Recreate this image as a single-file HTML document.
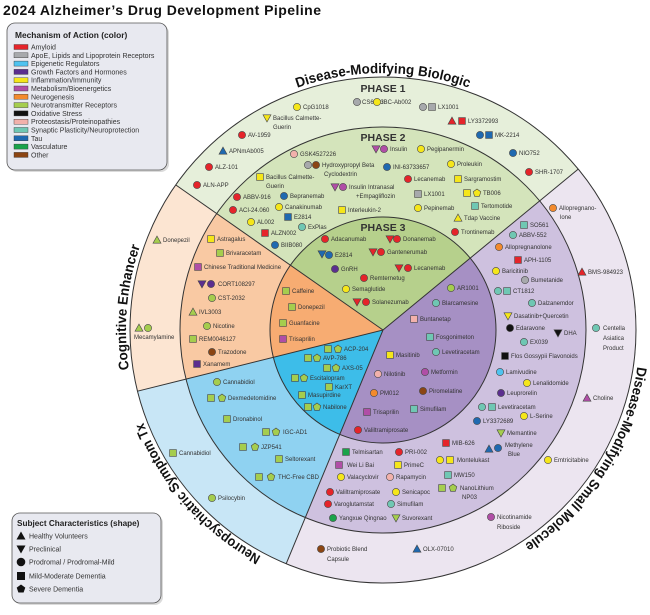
<!DOCTYPE html>
<html><head><meta charset="utf-8"><style>
body{margin:0;background:#fff;}
svg{display:block;font-family:"Liberation Sans",sans-serif;}
.t{font-size:6px;fill:#333;}
.ph{font-size:10.5px;font-weight:bold;fill:#333;text-anchor:middle;}
.big{font-size:14px;font-weight:bold;fill:#111;}
use{stroke:#444;stroke-width:.6;}
.lg{font-size:7px;fill:#333;}
</style></head><body>
<svg width="650" height="615" viewBox="0 0 650 615" xmlns="http://www.w3.org/2000/svg">
<defs>
<circle id="c" r="3.6"/>
<rect id="s" x="-3.4" y="-3.4" width="6.8" height="6.8"/>
<path id="u" d="M0,-4L4,3.2L-4,3.2Z"/>
<path id="d" d="M0,4L4,-3.2L-4,-3.2Z"/>
<path id="p" d="M0,-4L3.8,-1.2L2.4,3.3L-2.4,3.3L-3.8,-1.2Z"/>
<path id="topArc" d="M126,330 A257,257 0 0 1 640,330"/>
<path id="rightArc" d="M383,73 A257,257 0 0 1 383,587"/>
<path id="leftArc" d="M383,587 A257,257 0 0 1 383,73"/>
<path id="cogArc" d="M160.4,458.5 A257,257 0 0 1 172.5,182.6"/>
</defs>

<text x="3" y="15" class="big" textLength="318">2024 Alzheimer’s Drug Development Pipeline</text>

<path d="M383,330 L175.7,184.9 A253,253 0 0 1 578.2,169.1Z" fill="#e6efda"/>
<path d="M383,330 L578.2,169.1 A253,253 0 0 1 286.2,563.7Z" fill="#ece5f0"/>
<path d="M383,330 L286.2,563.7 A253,253 0 0 1 137.5,391.2Z" fill="#c8e6f6"/>
<path d="M383,330 L137.5,391.2 A253,253 0 0 1 175.7,184.9Z" fill="#fce5d2"/>
<path d="M383,330 L216.7,213.6 A203,203 0 0 1 539.6,200.9Z" fill="#d4e4bb"/>
<path d="M383,330 L539.6,200.9 A203,203 0 0 1 305.3,517.6Z" fill="#cec1df"/>
<path d="M383,330 L305.3,517.6 A203,203 0 0 1 186,379.1Z" fill="#8fd2f1"/>
<path d="M383,330 L186,379.1 A203,203 0 0 1 216.7,213.6Z" fill="#f9c9a3"/>
<path d="M383,330 L290.4,265.2 A113,113 0 0 1 470.2,258.1Z" fill="#b6d08c"/>
<path d="M383,330 L470.2,258.1 A113,113 0 0 1 339.8,434.4Z" fill="#a690c4"/>
<path d="M383,330 L339.8,434.4 A113,113 0 0 1 273.4,357.3Z" fill="#3dbde9"/>
<path d="M383,330 L273.4,357.3 A113,113 0 0 1 290.4,265.2Z" fill="#f7ac72"/>
<g fill="none" stroke="#333" stroke-width="1">
<circle cx="383" cy="330" r="253"/>
<circle cx="383" cy="330" r="203"/>
<circle cx="383" cy="330" r="113"/>
<line x1="383" y1="330" x2="175.7" y2="184.9"/>
<line x1="383" y1="330" x2="578.2" y2="169.1"/>
<line x1="383" y1="330" x2="286.2" y2="563.7"/>
<line x1="383" y1="330" x2="137.5" y2="391.2"/>
</g>

<text class="big"><textPath href="#topArc" startOffset="50%" text-anchor="middle" textLength="175" lengthAdjust="spacingAndGlyphs">Disease-Modifying Biologic</textPath></text>
<text class="big"><textPath href="#rightArc" startOffset="68%" text-anchor="middle" textLength="217" lengthAdjust="spacingAndGlyphs">Disease-Modifying Small Molecule</textPath></text>
<text class="big"><textPath href="#leftArc" startOffset="27%" text-anchor="middle" textLength="182" lengthAdjust="spacingAndGlyphs">Neuropsychiatric Symptom Tx</textPath></text>
<text class="big"><textPath href="#cogArc" startOffset="54%" text-anchor="middle" textLength="125" lengthAdjust="spacingAndGlyphs">Cognitive Enhancer</textPath></text>

<text x="383" y="92" class="ph">PHASE 1</text>
<text x="383" y="141" class="ph">PHASE 2</text>
<text x="383" y="231" class="ph">PHASE 3</text>

<use href="#c" x="297" y="107" fill="#f5e61a"/><text class="t" x="303" y="109.2">CpG1018</text>
<use href="#d" x="267" y="118" fill="#f5e61a"/><text class="t" x="273" y="120.2">Bacillus Calmette-</text><text class="t" x="273" y="129">Guerin</text>
<use href="#c" x="242" y="135" fill="#e5242a"/><text class="t" x="248" y="137.2">AV-1959</text>
<use href="#u" x="223" y="151" fill="#1f69b0"/><text class="t" x="229" y="153.2">APNmAb005</text>
<use href="#c" x="209" y="167" fill="#e5242a"/><text class="t" x="215" y="169.2">ALZ-101</text>
<use href="#c" x="197" y="185" fill="#e5242a"/><text class="t" x="203" y="187.2">ALN-APP</text>
<use href="#c" x="357" y="102" fill="#a7a9ac"/><text class="t" x="362" y="104.2">CS6253</text>
<use href="#c" x="377" y="102" fill="#f5e61a"/><text class="t" x="382" y="104.2">IBC-Ab002</text>
<use href="#c" x="423" y="107" fill="#a7a9ac"/><use href="#s" x="432" y="107" fill="#a7a9ac"/><text class="t" x="438" y="109.2">LX1001</text>
<use href="#u" x="452" y="121" fill="#e5242a"/><use href="#s" x="462" y="121" fill="#e5242a"/><text class="t" x="468" y="123.2">LY3372993</text>
<use href="#c" x="480" y="135" fill="#1f69b0"/><use href="#s" x="489" y="135" fill="#1f69b0"/><text class="t" x="495" y="137.2">MK-2214</text>
<use href="#c" x="513" y="153" fill="#1f69b0"/><text class="t" x="519" y="155.2">NIO752</text>
<use href="#c" x="529" y="172" fill="#e5242a"/><text class="t" x="535" y="174.2">SHR-1707</text>

<use href="#d" x="376" y="149" fill="#b04ea6"/><use href="#c" x="384" y="149" fill="#b04ea6"/><text class="t" x="390" y="151.2">Insulin</text>
<use href="#c" x="421" y="149" fill="#f5e61a"/><text class="t" x="427" y="151.2">Pegipanermin</text>
<use href="#c" x="387" y="167" fill="#1f69b0"/><text class="t" x="393" y="169.2">INI-63733657</text>
<use href="#c" x="451" y="164" fill="#f5e61a"/><text class="t" x="457" y="166.2">Proleukin</text>
<use href="#c" x="408" y="179" fill="#e5242a"/><text class="t" x="414" y="181.2">Lecanemab</text>
<use href="#s" x="458" y="179" fill="#f5e61a"/><text class="t" x="464" y="181.2">Sargramostim</text>
<use href="#d" x="335" y="187" fill="#b04ea6"/><use href="#c" x="343" y="187" fill="#b04ea6"/><text class="t" x="349" y="189.2">Insulin Intranasal</text><text class="t" x="356" y="198">+Empagliflozin</text>
<use href="#s" x="418" y="194" fill="#a7a9ac"/><text class="t" x="424" y="196.2">LX1001</text>
<use href="#s" x="467" y="193" fill="#f5e61a"/><use href="#p" x="477" y="193" fill="#f5e61a"/><text class="t" x="483" y="195.2">TB006</text>
<use href="#s" x="342" y="210" fill="#f5e61a"/><text class="t" x="348" y="212.2">Interleukin-2</text>
<use href="#c" x="418" y="208" fill="#f5e61a"/><text class="t" x="424" y="210.2">Pepinemab</text>
<use href="#s" x="475" y="206" fill="#6fc7b3"/><text class="t" x="481" y="208.2">Tertomotide</text>
<use href="#u" x="458" y="218" fill="#f5e61a"/><text class="t" x="464" y="220.2">Tdap Vaccine</text>
<use href="#c" x="455" y="232" fill="#e5242a"/><text class="t" x="461" y="234.2">Trontinemab</text>
<use href="#c" x="294" y="154" fill="#f2b1ab"/><text class="t" x="300" y="156.2">GSK4527226</text>
<use href="#c" x="308" y="165" fill="#a7a9ac"/><use href="#c" x="316" y="165" fill="#8b4513"/><text class="t" x="322" y="167.2">Hydroxypropyl Beta</text><text class="t" x="324" y="176">Cyclodextrin</text>
<use href="#s" x="260" y="177" fill="#f5e61a"/><text class="t" x="266" y="179.2">Bacillus Calmette-</text><text class="t" x="266" y="188">Guerin</text>
<use href="#c" x="237" y="197" fill="#e5242a"/><text class="t" x="243" y="199.2">ABBV-916</text>
<use href="#c" x="284" y="196" fill="#1f69b0"/><text class="t" x="290" y="198.2">Bepranemab</text>
<use href="#c" x="233" y="210" fill="#e5242a"/><text class="t" x="239" y="212.2">ACI-24.060</text>
<use href="#c" x="279" y="207" fill="#f5e61a"/><text class="t" x="285" y="209.2">Canakinumab</text>
<use href="#c" x="251" y="222" fill="#f5e61a"/><text class="t" x="257" y="224.2">AL002</text>
<use href="#s" x="288" y="217" fill="#1f69b0"/><text class="t" x="294" y="219.2">E2814</text>
<use href="#c" x="302" y="227" fill="#6fc7b3"/><text class="t" x="308" y="229.2">ExPlas</text>
<use href="#s" x="265" y="233" fill="#e5242a"/><text class="t" x="271" y="235.2">ALZN002</text>
<use href="#c" x="275" y="245" fill="#1f69b0"/><text class="t" x="281" y="247.2">BIIB080</text>

<use href="#c" x="325" y="239" fill="#e5242a"/><text class="t" x="331" y="241.2">Adacanumab</text>
<use href="#d" x="390" y="239" fill="#e5242a"/><use href="#c" x="397" y="239" fill="#e5242a"/><text class="t" x="403" y="241.2">Donanemab</text>
<use href="#d" x="322" y="254" fill="#1f69b0"/><use href="#c" x="329" y="255" fill="#1f69b0"/><text class="t" x="335" y="257.2">E2814</text>
<use href="#d" x="373" y="252" fill="#e5242a"/><use href="#c" x="381" y="252" fill="#e5242a"/><text class="t" x="387" y="254.2">Gantenerumab</text>
<use href="#c" x="335" y="269" fill="#5b2e8f"/><text class="t" x="341" y="271.2">GnRH</text>
<use href="#d" x="399" y="268" fill="#e5242a"/><use href="#c" x="408" y="268" fill="#e5242a"/><text class="t" x="414" y="270.2">Lecanemab</text>
<use href="#c" x="364" y="278" fill="#e5242a"/><text class="t" x="370" y="280.2">Remternetug</text>
<use href="#c" x="346" y="289" fill="#f5e61a"/><text class="t" x="352" y="291.2">Semaglutide</text>
<use href="#d" x="357" y="302" fill="#e5242a"/><use href="#c" x="366" y="302" fill="#e5242a"/><text class="t" x="372" y="304.2">Solanezumab</text>

<use href="#u" x="157" y="240" fill="#a5cd4e"/><text class="t" x="163" y="242.2">Donepezil</text>
<use href="#u" x="139" y="328" fill="#a5cd4e"/><use href="#c" x="148" y="328" fill="#a5cd4e"/><text class="t" x="134" y="339">Mecamylamine</text>
<use href="#s" x="211" y="239" fill="#f5e61a"/><text class="t" x="217" y="241.2">Astragalus</text>
<use href="#s" x="220" y="253" fill="#a5cd4e"/><text class="t" x="226" y="255.2">Brivaracetam</text>
<use href="#s" x="198" y="267" fill="#b04ea6"/><text class="t" x="204" y="269.2">Chinese Traditional Medicine</text>
<use href="#d" x="202" y="284" fill="#5b2e8f"/><use href="#c" x="211" y="284" fill="#5b2e8f"/><text class="t" x="218" y="286.2">CORT108297</text>
<use href="#c" x="212" y="298" fill="#a5cd4e"/><text class="t" x="218" y="300.2">CST-2032</text>
<use href="#u" x="193" y="312" fill="#a5cd4e"/><text class="t" x="199" y="314.2">IVL3003</text>
<use href="#c" x="207" y="326" fill="#a5cd4e"/><text class="t" x="213" y="328.2">Nicotine</text>
<use href="#s" x="193" y="339" fill="#a5cd4e"/><text class="t" x="199" y="341.2">REM0046127</text>
<use href="#c" x="212" y="352" fill="#8b4513"/><text class="t" x="218" y="354.2">Trazodone</text>
<use href="#s" x="197" y="364" fill="#5b2e8f"/><text class="t" x="203" y="366.2">Xanamem</text>
<use href="#s" x="286" y="291" fill="#a5cd4e"/><text class="t" x="292" y="293.2">Caffeine</text>
<use href="#s" x="292" y="307" fill="#a5cd4e"/><text class="t" x="298" y="309.2">Donepezil</text>
<use href="#s" x="283" y="323" fill="#a5cd4e"/><text class="t" x="289" y="325.2">Guanfacine</text>
<use href="#s" x="283" y="339" fill="#b04ea6"/><text class="t" x="289" y="341.2">Trisaprilin</text>

<use href="#s" x="328" y="349" fill="#a5cd4e"/><use href="#p" x="338" y="349" fill="#a5cd4e"/><text class="t" x="344" y="351.2">ACP-204</text>
<use href="#s" x="308" y="358" fill="#a5cd4e"/><use href="#p" x="317" y="358" fill="#a5cd4e"/><text class="t" x="323" y="360.2">AVP-786</text>
<use href="#s" x="327" y="368" fill="#a5cd4e"/><use href="#p" x="336" y="368" fill="#a5cd4e"/><text class="t" x="342" y="370.2">AXS-05</text>
<use href="#s" x="295" y="378" fill="#a5cd4e"/><use href="#p" x="304" y="378" fill="#a5cd4e"/><text class="t" x="310" y="380.2">Escitalopram</text>
<use href="#s" x="329" y="387" fill="#a5cd4e"/><text class="t" x="335" y="389.2">KarXT</text>
<use href="#s" x="302" y="395" fill="#a5cd4e"/><text class="t" x="308" y="397.2">Masupirdine</text>
<use href="#s" x="308" y="407" fill="#a5cd4e"/><use href="#p" x="317" y="407" fill="#a5cd4e"/><text class="t" x="323" y="409.2">Nabilone</text>
<use href="#c" x="217" y="382" fill="#a5cd4e"/><text class="t" x="223" y="384.2">Cannabidiol</text>
<use href="#s" x="211" y="398" fill="#a5cd4e"/><use href="#p" x="222" y="398" fill="#a5cd4e"/><text class="t" x="228" y="400.2">Dexmedetomidine</text>
<use href="#s" x="227" y="419" fill="#a5cd4e"/><text class="t" x="233" y="421.2">Dronabinol</text>
<use href="#s" x="266" y="432" fill="#a5cd4e"/><use href="#p" x="276" y="432" fill="#a5cd4e"/><text class="t" x="283" y="434.2">IGC-AD1</text>
<use href="#s" x="243" y="447" fill="#a5cd4e"/><use href="#p" x="255" y="447" fill="#a5cd4e"/><text class="t" x="261" y="449.2">JZP541</text>
<use href="#s" x="279" y="459" fill="#a5cd4e"/><text class="t" x="285" y="461.2">Seltorexant</text>
<use href="#s" x="259" y="477" fill="#a5cd4e"/><use href="#p" x="271" y="477" fill="#a5cd4e"/><text class="t" x="278" y="479.2">THC-Free CBD</text>
<use href="#s" x="173" y="453" fill="#a5cd4e"/><text class="t" x="179" y="455.2">Cannabidiol</text>
<use href="#c" x="212" y="498" fill="#a5cd4e"/><text class="t" x="218" y="500.2">Psilocybin</text>

<use href="#c" x="451" y="288" fill="#a5cd4e"/><text class="t" x="457" y="290.2">AR1001</text>
<use href="#c" x="436" y="303" fill="#6fc7b3"/><text class="t" x="442" y="305.2">Blarcamesine</text>
<use href="#s" x="414" y="319" fill="#f2b1ab"/><text class="t" x="420" y="321.2">Buntanetap</text>
<use href="#s" x="430" y="337" fill="#6fc7b3"/><text class="t" x="436" y="339.2">Fosgonimeton</text>
<use href="#s" x="390" y="355" fill="#f5e61a"/><text class="t" x="396" y="357.2">Masitinib</text>
<use href="#c" x="436" y="352" fill="#6fc7b3"/><text class="t" x="442" y="354.2">Levetiracetam</text>
<use href="#c" x="378" y="374" fill="#f2b1ab"/><text class="t" x="384" y="376.2">Nilotinib</text>
<use href="#c" x="425" y="372" fill="#b04ea6"/><text class="t" x="431" y="374.2">Metformin</text>
<use href="#c" x="374" y="393" fill="#f38a2d"/><text class="t" x="380" y="395.2">PM012</text>
<use href="#c" x="423" y="391" fill="#8b4513"/><text class="t" x="429" y="393.2">Piromelatine</text>
<use href="#s" x="367" y="412" fill="#b04ea6"/><text class="t" x="373" y="414.2">Trisaprilin</text>
<use href="#s" x="414" y="409" fill="#6fc7b3"/><text class="t" x="420" y="411.2">Simufilam</text>
<use href="#c" x="358" y="430" fill="#e5242a"/><text class="t" x="364" y="432.2">Valiltramiprosate</text>

<use href="#s" x="524" y="225" fill="#6fc7b3"/><text class="t" x="530" y="227.2">SO561</text>
<use href="#c" x="513" y="235" fill="#6fc7b3"/><text class="t" x="519" y="237.2">ABBV-552</text>
<use href="#c" x="499" y="247" fill="#f38a2d"/><text class="t" x="505" y="249.2">Allopregnanolone</text>
<use href="#s" x="518" y="260" fill="#e5242a"/><text class="t" x="524" y="262.2">APH-1105</text>
<use href="#c" x="496" y="271" fill="#f5e61a"/><text class="t" x="502" y="273.2">Baricitinib</text>
<use href="#c" x="525" y="280" fill="#a7a9ac"/><text class="t" x="531" y="282.2">Bumetanide</text>
<use href="#c" x="498" y="291" fill="#6fc7b3"/><use href="#s" x="507" y="291" fill="#6fc7b3"/><text class="t" x="513" y="293.2">CT1812</text>
<use href="#c" x="532" y="303" fill="#6fc7b3"/><text class="t" x="538" y="305.2">Dalzanemdor</text>
<use href="#d" x="508" y="316" fill="#f5e61a"/><text class="t" x="514" y="318.2">Dasatinib+Quercetin</text>
<use href="#c" x="510" y="328" fill="#111"/><text class="t" x="516" y="330.2">Edaravone</text>
<use href="#d" x="558" y="333" fill="#111"/><text class="t" x="564" y="335.2">DHA</text>
<use href="#c" x="524" y="342" fill="#6fc7b3"/><text class="t" x="530" y="344.2">EX039</text>
<use href="#s" x="505" y="356" fill="#111"/><text class="t" x="511" y="358.2">Flos Gossypii Flavonoids</text>
<use href="#c" x="500" y="372" fill="#4fc3f0"/><text class="t" x="506" y="374.2">Lamivudine</text>
<use href="#c" x="527" y="383" fill="#f5e61a"/><text class="t" x="533" y="385.2">Lenalidomide</text>
<use href="#c" x="501" y="393" fill="#5b2e8f"/><text class="t" x="507" y="395.2">Leuprorelin</text>
<use href="#c" x="482" y="407" fill="#6fc7b3"/><use href="#s" x="492" y="407" fill="#6fc7b3"/><text class="t" x="498" y="409.2">Levetiracetam</text>
<use href="#c" x="477" y="421" fill="#1f69b0"/><text class="t" x="483" y="423.2">LY3372689</text>
<use href="#c" x="524" y="416" fill="#f5e61a"/><text class="t" x="530" y="418.2">L-Serine</text>
<use href="#d" x="501" y="433" fill="#a5cd4e"/><text class="t" x="507" y="435.2">Memantine</text>
<use href="#s" x="446" y="443" fill="#e5242a"/><text class="t" x="452" y="445.2">MIB-626</text>
<use href="#u" x="489" y="449" fill="#1f69b0"/><use href="#c" x="498" y="448" fill="#1f69b0"/><text class="t" x="505" y="447.2">Methylene</text><text class="t" x="508" y="456">Blue</text>
<use href="#c" x="440" y="460" fill="#f5e61a"/><use href="#s" x="450" y="460" fill="#f5e61a"/><text class="t" x="457" y="462.2">Montelukast</text>
<use href="#s" x="448" y="475" fill="#6fc7b3"/><text class="t" x="454" y="477.2">MW150</text>
<use href="#s" x="442" y="488" fill="#a5cd4e"/><use href="#p" x="453" y="488" fill="#a5cd4e"/><text class="t" x="460" y="490.2">NanoLithium</text><text class="t" x="462" y="499">NP03</text>
<use href="#s" x="346" y="452" fill="#1aa34a"/><text class="t" x="352" y="454.2">Telmisartan</text>
<use href="#c" x="399" y="452" fill="#e5242a"/><text class="t" x="405" y="454.2">PRI-002</text>
<use href="#s" x="339" y="465" fill="#b04ea6"/><text class="t" x="347" y="467.2">Wei Li Bai</text>
<use href="#s" x="398" y="465" fill="#f5e61a"/><text class="t" x="404" y="467.2">PrimeC</text>
<use href="#c" x="341" y="477" fill="#f5e61a"/><text class="t" x="347" y="479.2">Valacyclovir</text>
<use href="#c" x="390" y="477" fill="#f2b1ab"/><text class="t" x="396" y="479.2">Rapamycin</text>
<use href="#c" x="330" y="492" fill="#e5242a"/><text class="t" x="336" y="494.2">Valiltramiprosate</text>
<use href="#c" x="396" y="492" fill="#f5e61a"/><text class="t" x="402" y="494.2">Senicapoc</text>
<use href="#c" x="328" y="504" fill="#e5242a"/><text class="t" x="334" y="506.2">Varoglutamstat</text>
<use href="#c" x="391" y="504" fill="#6fc7b3"/><text class="t" x="397" y="506.2">Simufilam</text>
<use href="#c" x="333" y="518" fill="#1aa34a"/><text class="t" x="339" y="520.2">Yangxue Qingnao</text>
<use href="#d" x="396" y="518" fill="#a5cd4e"/><text class="t" x="402" y="520.2">Suvorexant</text>

<use href="#c" x="553" y="208" fill="#f38a2d"/><text class="t" x="559" y="210.2">Allopregnano-</text><text class="t" x="560" y="219">lone</text>
<use href="#u" x="582" y="272" fill="#e5242a"/><text class="t" x="588" y="274.2">BMS-984923</text>
<use href="#c" x="596" y="328" fill="#6fc7b3"/><text class="t" x="603" y="330.2">Centella</text><text class="t" x="603" y="340">Asiatica</text><text class="t" x="603" y="350">Product</text>
<use href="#u" x="587" y="398" fill="#b04ea6"/><text class="t" x="593" y="400.2">Choline</text>
<use href="#c" x="548" y="460" fill="#f5e61a"/><text class="t" x="554" y="462.2">Emtricitabine</text>
<use href="#c" x="491" y="517" fill="#b04ea6"/><text class="t" x="497" y="519.2">Nicotinamide</text><text class="t" x="497" y="529">Riboside</text>
<use href="#u" x="417" y="549" fill="#1f69b0"/><text class="t" x="423" y="551.2">OLX-07010</text>
<use href="#c" x="321" y="549" fill="#8b4513"/><text class="t" x="327" y="551.2">Probiotic Blend</text><text class="t" x="327" y="561">Capsule</text>

<rect x="9" y="25" width="160" height="147" rx="8" fill="#999" opacity=".35"/>
<rect x="7" y="23" width="160" height="147" rx="8" fill="#e8e9f0" stroke="#555" stroke-width="0.8"/>
<text x="15" y="38" font-size="8.4" font-weight="bold" fill="#222">Mechanism of Action (color)</text>
<g stroke="#333" stroke-width=".4">
<rect x="14" y="44.5" width="14" height="5" fill="#e5242a"/>
<rect x="14" y="52.8" width="14" height="5" fill="#a7a9ac"/>
<rect x="14" y="61.1" width="14" height="5" fill="#4fc3f0"/>
<rect x="14" y="69.4" width="14" height="5" fill="#5b2e8f"/>
<rect x="14" y="77.7" width="14" height="5" fill="#f5e61a"/>
<rect x="14" y="86" width="14" height="5" fill="#b04ea6"/>
<rect x="14" y="94.3" width="14" height="5" fill="#f38a2d"/>
<rect x="14" y="102.6" width="14" height="5" fill="#a5cd4e"/>
<rect x="14" y="110.9" width="14" height="5" fill="#111"/>
<rect x="14" y="119.2" width="14" height="5" fill="#f2b1ab"/>
<rect x="14" y="127.5" width="14" height="5" fill="#6fc7b3"/>
<rect x="14" y="135.8" width="14" height="5" fill="#1f69b0"/>
<rect x="14" y="144.1" width="14" height="5" fill="#1aa34a"/>
<rect x="14" y="152.4" width="14" height="5" fill="#8b4513"/>
</g>
<g class="lg">
<text x="31" y="49.5">Amyloid</text>
<text x="31" y="57.8">ApoE, Lipids and Lipoprotein Receptors</text>
<text x="31" y="66.1">Epigenetic Regulators</text>
<text x="31" y="74.4">Growth Factors and Hormones</text>
<text x="31" y="82.7">Inflammation/Immunity</text>
<text x="31" y="91">Metabolism/Bioenergetics</text>
<text x="31" y="99.3">Neurogenesis</text>
<text x="31" y="107.6">Neurotransmitter Receptors</text>
<text x="31" y="115.9">Oxidative Stress</text>
<text x="31" y="124.2">Proteostasis/Proteinopathies</text>
<text x="31" y="132.5">Synaptic Plasticity/Neuroprotection</text>
<text x="31" y="140.8">Tau</text>
<text x="31" y="149.1">Vasculature</text>
<text x="31" y="157.4">Other</text>
</g>

<rect x="14" y="515" width="149" height="90" rx="8" fill="#999" opacity=".35"/>
<rect x="12" y="513" width="149" height="90" rx="8" fill="#e8e9f0" stroke="#555" stroke-width="0.8"/>
<text x="17" y="526" font-size="8.2" font-weight="bold" fill="#222">Subject Characteristics (shape)</text>
<g fill="#111">
<path d="M21,531.5L25.5,539.5L16.5,539.5Z"/>
<path d="M21,553.5L25.5,545.5L16.5,545.5Z"/>
<circle cx="21" cy="562" r="4.3"/>
<rect x="17" y="572" width="8" height="8"/>
<path d="M21,584.5L25.3,587.6L23.6,592.5L18.4,592.5L16.7,587.6Z"/>
</g>
<g class="lg">
<text x="29" y="538.5">Healthy Volunteers</text>
<text x="29" y="551.5">Preclinical</text>
<text x="29" y="564.5">Prodromal / Prodromal-Mild</text>
<text x="29" y="578.5">Mild-Moderate Dementia</text>
<text x="29" y="591.5">Severe Dementia</text>
</g>
</svg>
</body></html>
